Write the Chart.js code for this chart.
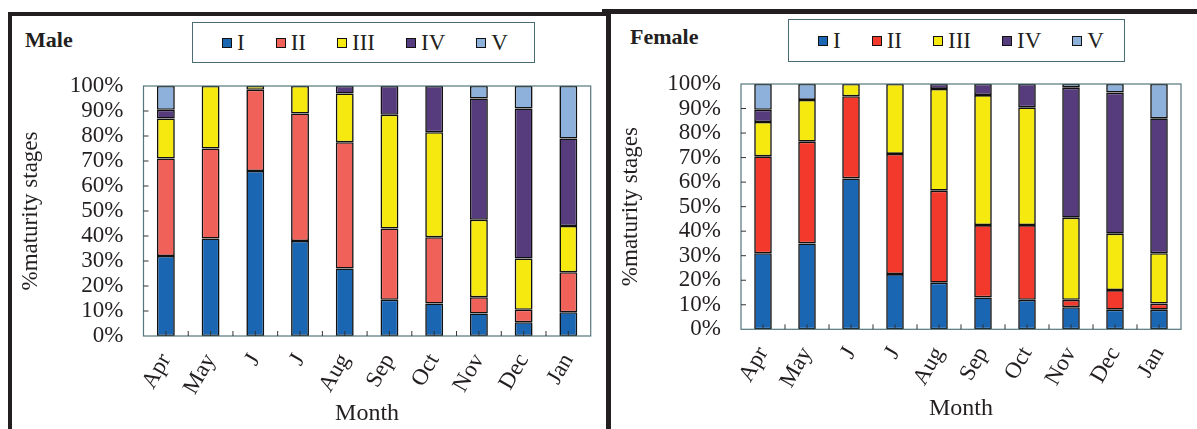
<!DOCTYPE html>
<html lang="en">
<head>
<meta charset="UTF-8">
<title>Maturity stages by month</title>
<script src="https://cdn.jsdelivr.net/npm/chart.js"></script>
<style>
    body {
        margin: 0;
        width: 1197px;
        height: 429px;
        position: relative;
        overflow: hidden;
        background: #fff;
        font-family: 'Liberation Serif', 'Times New Roman', serif;
        color: #231f20;
    }
    .line { position: absolute; background: #231f20; }
    canvas { position: absolute; }
    .title {
        position: absolute;
        font-weight: bold;
        font-size: 22px;
        line-height: 1;
    }
    .legend {
        position: absolute;
        box-sizing: border-box;
        border: 1.5px solid #4a6b73;
        display: flex;
        align-items: center;
        padding-left: 29px;
        font-size: 23px;
    }
    .legend .item { display: flex; align-items: center; margin-right: 31px; }
    .legend i {
        display: inline-block;
        width: 10px;
        height: 10px;
        box-sizing: border-box;
        border: 1.5px solid #111;
        margin-right: 5px;
    }
</style>
</head>
<body>
<div class="line" style="left:8px;top:12px;width:4px;height:417px"></div>
<div class="line" style="left:8px;top:12px;width:598px;height:4px"></div>
<div class="line" style="left:606px;top:12px;width:5px;height:417px"></div>
<div class="line" style="left:602px;top:9px;width:595px;height:5px"></div>

<div class="title" style="left:25px;top:29px">Male</div>
<div class="title" style="left:630px;top:26px">Female</div>
<div class="legend" id="maleLegend" style="left:192px;top:22px;width:343px;height:41px"></div>
<div class="legend" id="femaleLegend" style="left:788px;top:19px;width:337px;height:43px"></div>

<canvas id="maleChart" width="594" height="413" style="left:12px;top:16px"></canvas>
<canvas id="femaleChart" width="585" height="415" style="left:612px;top:14px"></canvas>

<script>
const months = ['Apr', 'May', 'J', 'J', 'Aug', 'Sep', 'Oct', 'Nov', 'Dec', 'Jan'];
const stages = ['I', 'II', 'III', 'IV', 'V'];
const yTickLabels = ['0%', '10%', '20%', '30%', '40%', '50%', '60%', '70%', '80%', '90%', '100%'];

// male, % of fish in each stage
const maleI   = [32, 39, 66, 38, 27, 14.5, 13, 9, 5.5, 9.5];
const maleII  = [39, 36, 32.5, 51, 50.5, 28.5, 26.5, 6.5, 5, 16];
const maleIII = [16, 25, 1.5, 11, 19.5, 45.5, 42, 31, 20.5, 18.5];
const maleIV  = [3.5, 0, 0, 0, 3, 11.5, 18.5, 48.5, 60, 35];
const maleV   = [9.5, 0, 0, 0, 0, 0, 0, 5, 9, 21];

// female
const femaleI   = [31, 35, 61.5, 22.5, 19, 13, 12, 9, 8, 8];
const femaleII  = [39.5, 41.5, 33.5, 49, 37.5, 29.5, 30.5, 3, 8, 2.5];
const femaleIII = [14, 17, 5, 28.5, 41.5, 53, 48, 33.5, 23, 20.5];
const femaleIV  = [5, 0, 0, 0, 2, 4.5, 9.5, 53, 57.5, 55];
const femaleV   = [10.5, 6.5, 0, 0, 0, 0, 0, 1.5, 3.5, 14];

const maleColours   = ['#1a66b3', '#f06159', '#f5e90f', '#563c7c', '#8eb1dc'];
const femaleColours = ['#1a66b3', '#f2392b', '#f5e90f', '#563c7c', '#8eb1dc'];

const ink = '#231f20';
const serif = "'Liberation Serif', 'Times New Roman', serif";

// plot frame plus the small inward ticks
const frameTicks = {
    id: 'frameTicks',
    afterDatasetsDraw(chart) {
        const {ctx, chartArea: a, scales: {x, y}} = chart;
        ctx.save();
        ctx.strokeStyle = '#55777d';
        ctx.lineWidth = 1.2;
        ctx.strokeRect(a.left, a.top, a.right - a.left, a.bottom - a.top);
        ctx.beginPath();
        for (let i = 0; i < months.length; i++) {
            const px = x.getPixelForValue(i);
            ctx.moveTo(px, a.bottom); ctx.lineTo(px, a.bottom - 5);
            if (i < months.length - 1) {
                const bx = (px + x.getPixelForValue(i + 1)) / 2;
                ctx.moveTo(bx, a.bottom); ctx.lineTo(bx, a.bottom - 5);
            }
        }
        y.ticks.forEach(t => {
            if (t.value > 0 && t.value < 100) {
                const py = y.getPixelForValue(t.value);
                ctx.moveTo(a.left, py); ctx.lineTo(a.left + 5, py);
            }
        });
        ctx.strokeStyle = '#333';
        ctx.lineWidth = 1;
        ctx.stroke();
        ctx.restore();
    }
};

function buildChart(id, series, colours, geo) {
    const datasets = stages.map((s, i) => ({
        label: s,
        data: series[i],
        backgroundColor: colours[i],
        borderColor: '#111',
        borderWidth: 1.6,
        borderSkipped: false,
        categoryPercentage: 1,
        barPercentage: 0.4
    }));
    return new Chart(document.getElementById(id), {
        type: 'bar',
        data: { labels: months, datasets: datasets },
        options: {
            responsive: false,
            animation: false,
            layout: { padding: { top: geo.top, right: geo.right, left: 0, bottom: 0 } },
            plugins: { legend: { display: false }, tooltip: { enabled: false } },
            scales: {
                x: {
                    stacked: true,
                    grid: { display: false, drawTicks: false },
                    border: { display: false },
                    ticks: {
                        color: ink,
                        font: { family: serif, size: 23 },
                        minRotation: 60,
                        maxRotation: 60,
                        autoSkip: false,
                        padding: 13
                    },
                    title: {
                        display: true,
                        text: 'Month',
                        color: ink,
                        font: { family: serif, size: 24 },
                        padding: { top: 0, bottom: geo.monthPad }
                    },
                    afterFit: s => { s.height = geo.xHeight; }
                },
                y: {
                    stacked: true,
                    min: 0,
                    max: 100,
                    grid: { display: false, drawTicks: false },
                    border: { display: false },
                    ticks: {
                        stepSize: 10,
                        autoSkip: false,
                        color: ink,
                        font: { family: serif, size: 23 },
                        padding: 20,
                        callback: (v, i) => yTickLabels[i]
                    },
                    title: {
                        display: true,
                        text: '%maturity stages',
                        color: ink,
                        font: { family: serif, size: 23 },
                        padding: { top: 5, bottom: 0 }
                    },
                    afterFit: s => { s.width = geo.yWidth; }
                }
            }
        },
        plugins: [frameTicks]
    });
}

function buildLegend(chart, elId) {
    const el = document.getElementById(elId);
    chart.data.datasets.forEach(ds => {
        const item = document.createElement('span');
        item.className = 'item';
        const box = document.createElement('i');
        box.style.background = ds.backgroundColor;
        item.appendChild(box);
        item.appendChild(document.createTextNode(ds.label));
        el.appendChild(item);
    });
}

const maleChart = buildChart('maleChart',
    [maleI, maleII, maleIII, maleIV, maleV], maleColours,
    { top: 70, right: 15, yWidth: 131.5, xHeight: 93, monthPad: 1 });
const femaleChart = buildChart('femaleChart',
    [femaleI, femaleII, femaleIII, femaleIV, femaleV], femaleColours,
    { top: 70, right: 16, yWidth: 129, xHeight: 99.7, monthPad: 6 });

buildLegend(maleChart, 'maleLegend');
buildLegend(femaleChart, 'femaleLegend');
</script>
</body>
</html>
